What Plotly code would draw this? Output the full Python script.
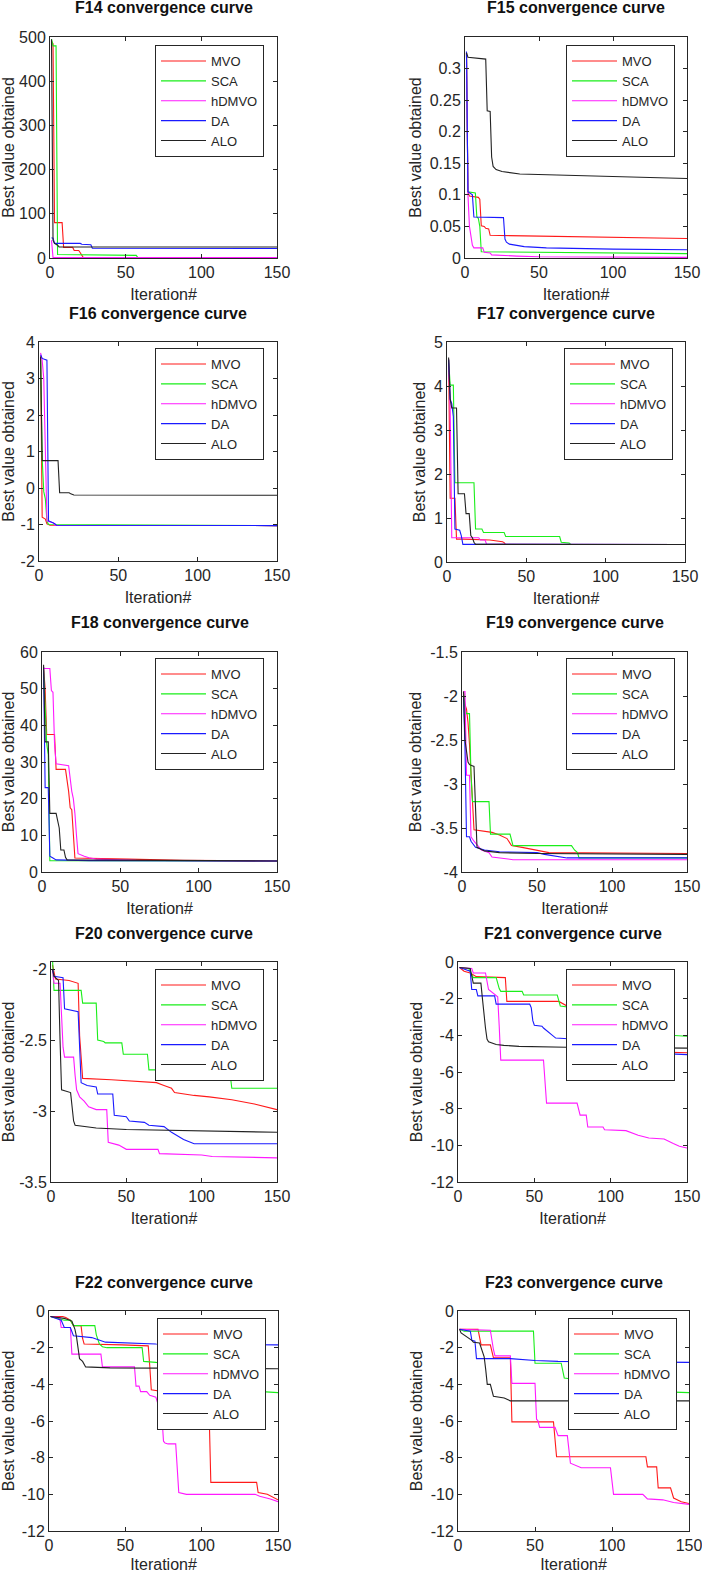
import plotly.graph_objects as go

W, H = 702, 1573

ALGOS = ["MVO", "SCA", "hDMVO", "DA", "ALO"]
COLORS = ["#ff1a1a", "#1aee1a", "#ff1aff", "#1a1aff", "#222222"]

PANELS = ["F14", "F15", "F16", "F17", "F18", "F19", "F20", "F21", "F22", "F23"]

# ---------------- F14 ----------------
F14_MVO_it = [1, 2, 3, 8, 9, 15, 16, 19, 20, 21, 22, 150]
F14_MVO_val = [490, 485, 80, 80, 24, 24, 17, 17, 12, 5, 1, 1]
F14_SCA_it = [1, 2, 4, 5, 57, 58, 150]
F14_SCA_val = [495, 480, 480, 8, 6, 1, 1]
F14_hDMVO_it = [1, 2, 150]
F14_hDMVO_val = [40, 0.998, 0.998]
F14_DA_it = [1, 2, 3, 20, 21, 27, 28, 150]
F14_DA_val = [46, 45, 33, 33, 31, 30, 22, 21.5]
F14_ALO_it = [1, 2, 3, 5, 6, 150]
F14_ALO_val = [495, 40, 33, 29, 25, 25]

# ---------------- F15 ----------------
F15_MVO_it = [1, 2, 3, 9, 10, 11, 13, 14, 16, 17, 40, 100, 150]
F15_MVO_val = [0.325, 0.105, 0.098, 0.096, 0.093, 0.051, 0.05, 0.047, 0.046, 0.036, 0.035, 0.033, 0.031]
F15_SCA_it = [1, 2, 7, 8, 9, 10, 11, 50, 150]
F15_SCA_val = [0.325, 0.105, 0.103, 0.065, 0.063, 0.05, 0.01, 0.009, 0.007]
F15_hDMVO_it = [1, 2, 3, 4, 5, 6, 12, 13, 17, 18, 25, 35, 50, 150]
F15_hDMVO_val = [0.325, 0.1, 0.05, 0.038, 0.02, 0.016, 0.016, 0.009, 0.008, 0.005, 0.004, 0.003, 0.002, 0.001]
F15_DA_it = [1, 2, 5, 6, 26, 27, 28, 30, 40, 55, 100, 150]
F15_DA_val = [0.327, 0.105, 0.1, 0.065, 0.064, 0.03, 0.025, 0.022, 0.018, 0.016, 0.014, 0.013]
F15_ALO_it = [1, 2, 14, 15, 17, 18, 19, 21, 25, 37, 150]
F15_ALO_val = [0.325, 0.318, 0.315, 0.233, 0.232, 0.16, 0.145, 0.14, 0.137, 0.133, 0.126]

# ---------------- F16 ----------------
F16_MVO_it = [1, 2, 4, 5, 7, 150]
F16_MVO_val = [3.6, -0.8, -0.85, -0.98, -1.02, -1.03]
F16_SCA_it = [1, 2, 3, 4, 5, 6, 150]
F16_SCA_val = [3.5, 0.8, -0.1, -0.3, -0.9, -1.0, -1.03]
F16_hDMVO_it = [1, 2, 3, 4, 5, 6, 9, 10, 150]
F16_hDMVO_val = [3.7, 3.5, 3.0, 1.0, -0.9, -0.92, -0.95, -1.02, -1.03]
F16_DA_it = [1, 2, 5, 6, 7, 9, 10, 11, 150]
F16_DA_val = [3.65, 3.55, 3.5, -0.9, -0.92, -0.95, -0.98, -1.02, -1.03]
F16_ALO_it = [1, 2, 12, 13, 19, 20, 22, 150]
F16_ALO_val = [3.6, 0.75, 0.75, -0.13, -0.13, -0.16, -0.19, -0.2]

# ---------------- F17 ----------------
F17_MVO_it = [1, 2, 5, 6, 10, 20, 27, 35, 36, 37, 150]
F17_MVO_val = [4.6, 1.45, 1.45, 0.52, 0.52, 0.51, 0.5, 0.46, 0.44, 0.398, 0.398]
F17_SCA_it = [1, 2, 4, 5, 17, 18, 22, 23, 36, 37, 71, 72, 77, 78, 150]
F17_SCA_val = [4.6, 4.02, 4.02, 1.8, 1.8, 0.75, 0.75, 0.67, 0.67, 0.58, 0.58, 0.45, 0.43, 0.4, 0.398]
F17_hDMVO_it = [1, 2, 3, 20, 21, 24, 25, 150]
F17_hDMVO_val = [4.6, 3.5, 0.55, 0.55, 0.5, 0.5, 0.4, 0.398]
F17_DA_it = [1, 2, 3, 4, 5, 8, 9, 10, 150]
F17_DA_val = [4.6, 3.7, 3.6, 3.3, 0.75, 0.72, 0.6, 0.4, 0.398]
F17_ALO_it = [1, 2, 3, 6, 7, 11, 12, 14, 15, 16, 17, 18, 150]
F17_ALO_val = [4.65, 3.7, 3.5, 3.5, 1.55, 1.55, 1.1, 1.1, 0.6, 0.55, 0.45, 0.4, 0.398]

# ---------------- F18 ----------------
F18_MVO_it = [1, 2, 3, 8, 9, 15, 17, 18, 19, 20, 21, 55, 90, 150]
F18_MVO_val = [56, 50, 37.5, 37.5, 28, 28, 22, 17.5, 17, 10, 3.8, 3.5, 3.2, 3.0]
F18_SCA_it = [1, 2, 3, 4, 5, 150]
F18_SCA_val = [55, 45, 35, 32, 3.1, 3.0]
F18_hDMVO_it = [1, 5, 6, 7, 8, 9, 17, 18, 19, 20, 21, 22, 23, 27, 30, 35, 60, 150]
F18_hDMVO_val = [55.5, 55.5, 49.5, 49, 35, 29.5, 29, 25, 22, 20, 16, 10, 5, 4.3, 3.9, 3.5, 3.2, 3.0]
F18_DA_it = [1, 2, 4, 5, 7, 9, 30, 150]
F18_DA_val = [56, 23, 23, 4.3, 3.8, 3.3, 3.1, 3.0]
F18_ALO_it = [1, 2, 4, 5, 9, 10, 11, 12, 14, 15, 16, 150]
F18_ALO_val = [56.5, 35.5, 35.5, 16, 16, 14, 12, 6, 6, 4, 3.3, 3.0]

# ---------------- F19 ----------------
F19_MVO_it = [1, 2, 3, 4, 5, 7, 8, 20, 25, 30, 33, 40, 50, 58, 150]
F19_MVO_val = [-1.95, -2.1, -2.15, -2.3, -2.55, -3.2, -3.52, -3.55, -3.58, -3.62, -3.7, -3.72, -3.75, -3.78, -3.79]
F19_SCA_it = [1, 2, 3, 5, 6, 7, 18, 19, 32, 34, 73, 75, 77, 78, 150]
F19_SCA_val = [-1.95, -2.15, -2.2, -2.2, -2.9, -3.2, -3.2, -3.57, -3.57, -3.7, -3.7, -3.75, -3.78, -3.84, -3.84]
F19_hDMVO_it = [1, 2, 3, 5, 6, 8, 13, 18, 20, 34, 150]
F19_hDMVO_val = [-1.95, -1.95, -2.9, -2.9, -3.6, -3.65, -3.75, -3.78, -3.83, -3.86, -3.86]
F19_DA_it = [1, 2, 3, 5, 6, 9, 15, 25, 50, 55, 70, 150]
F19_DA_val = [-2.0, -2.6, -3.6, -3.6, -3.65, -3.72, -3.75, -3.77, -3.78, -3.8, -3.84, -3.84]
F19_ALO_it = [1, 2, 4, 5, 8, 9, 10, 15, 25, 50, 150]
F19_ALO_val = [-1.95, -2.5, -2.75, -2.78, -2.8, -3.3, -3.72, -3.76, -3.78, -3.79, -3.8]

# ---------------- F20 ----------------
F20_MVO_it = [1, 3, 12, 18, 19, 20, 21, 40, 55, 70, 75, 80, 82, 95, 105, 120, 135, 150]
F20_MVO_val = [-1.97, -2.07, -2.08, -2.1, -2.47, -2.6, -2.77, -2.78, -2.79, -2.8, -2.82, -2.84, -2.87, -2.89, -2.9, -2.92, -2.95, -2.99]
F20_SCA_it = [1, 2, 20, 21, 30, 31, 35, 36, 47, 48, 64, 65, 104, 105, 119, 120, 150]
F20_SCA_val = [-1.93, -2.15, -2.15, -2.24, -2.24, -2.5, -2.51, -2.52, -2.52, -2.6, -2.6, -2.71, -2.71, -2.75, -2.75, -2.84, -2.84]
F20_hDMVO_it = [1, 2, 6, 7, 8, 9, 15, 16, 17, 19, 22, 25, 30, 37, 38, 45, 50, 71, 72, 100, 107, 150]
F20_hDMVO_val = [-2.0, -2.1, -2.1, -2.4, -2.55, -2.62, -2.62, -2.75, -2.85, -2.9, -2.93, -2.97, -2.99, -2.99, -3.22, -3.24, -3.27, -3.27, -3.3, -3.31, -3.32, -3.33]
F20_DA_it = [1, 2, 8, 9, 18, 19, 20, 24, 30, 31, 41, 42, 50, 52, 62, 65, 75, 80, 88, 95, 150]
F20_DA_val = [-2.0, -2.05, -2.06, -2.28, -2.3, -2.6, -2.8, -2.82, -2.83, -2.88, -2.88, -3.03, -3.04, -3.07, -3.08, -3.1, -3.11, -3.15, -3.2, -3.23, -3.23]
F20_ALO_it = [1, 2, 4, 5, 6, 7, 13, 14, 15, 16, 30, 50, 100, 150]
F20_ALO_val = [-2.0, -2.05, -2.07, -2.08, -2.5, -2.85, -2.87, -3.0, -3.07, -3.1, -3.12, -3.13, -3.14, -3.15]

# ---------------- F21 ----------------
F21_MVO_it = [1, 4, 8, 12, 31, 32, 66, 67, 80, 95, 110, 130, 150]
F21_MVO_val = [-0.3, -0.5, -0.6, -0.8, -0.85, -2.15, -2.15, -2.2, -2.8, -3.5, -4.2, -4.9, -4.95]
F21_SCA_it = [1, 7, 9, 10, 25, 26, 27, 28, 42, 43, 65, 67, 85, 100, 120, 150]
F21_SCA_val = [-0.3, -0.35, -0.7, -0.85, -0.85, -1.2, -1.45, -1.6, -1.6, -1.8, -1.8, -2.4, -2.6, -3.2, -3.9, -4.05]
F21_hDMVO_it = [1, 9, 10, 18, 20, 25, 26, 27, 28, 56, 57, 58, 78, 79, 80, 84, 85, 95, 96, 110, 118, 125, 135, 141, 145, 150]
F21_hDMVO_val = [-0.3, -0.35, -0.6, -0.6, -1.5, -1.8, -1.9, -3.5, -5.35, -5.35, -6.5, -7.7, -7.7, -8.0, -8.35, -8.35, -9.0, -9.0, -9.15, -9.2, -9.45, -9.6, -9.65, -9.9, -10.05, -10.15]
F21_DA_it = [1, 5, 8, 9, 12, 13, 24, 25, 47, 48, 49, 50, 55, 56, 60, 64, 75, 90, 110, 150]
F21_DA_val = [-0.3, -0.4, -0.5, -1.5, -1.5, -1.85, -1.85, -2.3, -2.3, -2.5, -3.2, -3.45, -3.5, -3.6, -3.85, -4.15, -4.2, -4.6, -4.9, -5.05]
F21_ALO_it = [1, 8, 10, 15, 16, 17, 18, 19, 20, 25, 30, 40, 71, 150]
F21_ALO_val = [-0.3, -0.35, -1.15, -1.15, -2.0, -3.0, -3.6, -4.2, -4.35, -4.5, -4.55, -4.6, -4.65, -4.7]

# ---------------- F22 ----------------
F22_MVO_it = [1, 9, 11, 14, 16, 21, 22, 23, 48, 65, 66, 67, 75, 95, 103, 105, 106, 136, 137, 143, 150]
F22_MVO_val = [-0.3, -0.3, -0.35, -0.5, -0.8, -0.8, -1.5, -1.8, -1.85, -1.9, -3.0, -4.3, -4.4, -5.85, -5.9, -5.95, -9.35, -9.35, -9.9, -10.0, -10.3]
F22_SCA_it = [1, 10, 14, 16, 30, 31, 33, 35, 38, 61, 62, 70, 100, 120, 150]
F22_SCA_val = [-0.3, -0.5, -0.5, -0.8, -0.8, -1.3, -1.8, -1.95, -2.0, -2.0, -2.75, -2.8, -3.5, -4.3, -4.45]
F22_hDMVO_it = [1, 7, 8, 14, 15, 34, 35, 56, 57, 59, 60, 64, 66, 70, 74, 75, 76, 78, 83, 84, 85, 90, 135, 138, 145, 150]
F22_hDMVO_val = [-0.3, -0.35, -0.9, -0.9, -2.35, -2.35, -3.05, -3.05, -4.1, -4.1, -4.4, -4.4, -4.6, -4.7, -5.8, -7.1, -7.2, -7.25, -7.25, -8.5, -9.9, -10.0, -10.0, -10.1, -10.25, -10.4]
F22_DA_it = [1, 8, 10, 14, 16, 28, 37, 70, 150]
F22_DA_val = [-0.3, -0.5, -0.9, -0.9, -1.35, -1.45, -1.7, -1.8, -1.85]
F22_ALO_it = [1, 10, 15, 17, 18, 20, 22, 24, 40, 150]
F22_ALO_val = [-0.3, -0.4, -0.55, -1.0, -1.4, -2.6, -2.75, -3.05, -3.1, -3.15]

# ---------------- F23 ----------------
F23_MVO_it = [1, 13, 15, 21, 23, 34, 35, 62, 64, 122, 123, 129, 130, 138, 140, 145, 150]
F23_MVO_val = [-1.0, -1.0, -1.85, -1.85, -2.55, -2.55, -6.05, -6.05, -7.95, -7.95, -8.5, -8.5, -9.65, -9.65, -10.2, -10.4, -10.5]
F23_SCA_it = [1, 4, 49, 50, 67, 69, 90, 110, 130, 150]
F23_SCA_val = [-1.0, -1.1, -1.1, -2.85, -2.85, -3.65, -3.9, -4.2, -4.4, -4.45]
F23_hDMVO_it = [1, 21, 23, 24, 34, 35, 50, 51, 52, 53, 63, 65, 71, 73, 80, 99, 101, 120, 123, 133, 140, 150]
F23_hDMVO_val = [-1.0, -1.05, -2.1, -2.45, -2.45, -3.95, -3.95, -5.9, -6.0, -6.35, -6.35, -6.8, -6.8, -8.3, -8.55, -8.55, -10.0, -10.0, -10.25, -10.3, -10.45, -10.55]
F23_DA_it = [1, 8, 9, 11, 12, 34, 50, 65, 150]
F23_DA_val = [-1.0, -1.1, -1.6, -1.65, -2.6, -2.6, -2.7, -2.75, -2.8]
F23_ALO_it = [1, 2, 9, 10, 14, 16, 17, 18, 19, 21, 23, 30, 34, 150]
F23_ALO_val = [-1.0, -1.2, -1.6, -1.7, -1.75, -2.2, -2.5, -3.2, -4.0, -4.0, -4.65, -4.75, -4.9, -4.9]

# Axis ranges / y tick labels per panel
Y_RANGES = {
    "F14": [0, 500], "F15": [0, 0.35], "F16": [-2, 4], "F17": [0, 5], "F18": [0, 60],
    "F19": [-4, -1.5], "F20": [-3.5, -1.95], "F21": [-12, 0], "F22": [-12, 0], "F23": [-12, 0],
}
Y_TICKS = {
    "F14": [0, 100, 200, 300, 400, 500],
    "F15": [0, 0.05, 0.1, 0.15, 0.2, 0.25, 0.3],
    "F16": [-2, -1, 0, 1, 2, 3, 4],
    "F17": [0, 1, 2, 3, 4, 5],
    "F18": [0, 10, 20, 30, 40, 50, 60],
    "F19": [-4, -3.5, -3, -2.5, -2, -1.5],
    "F20": [-3.5, -3, -2.5, -2],
    "F21": [-12, -10, -8, -6, -4, -2, 0],
    "F22": [-12, -10, -8, -6, -4, -2, 0],
    "F23": [-12, -10, -8, -6, -4, -2, 0],
}
X_TICKS = [0, 50, 100, 150]

# Layout geometry (pixels): plot box left, right, top, bottom; legend top-left
BOXES = {
    "F14": (50, 277, 37, 258), "F15": (465, 687, 37, 258),
    "F16": (39, 277, 342, 561), "F17": (447, 685, 342, 562),
    "F18": (42, 277, 652, 872), "F19": (462, 687, 652, 872),
    "F20": (51, 277, 962, 1182), "F21": (458, 687, 962, 1182),
    "F22": (49, 278, 1311, 1531), "F23": (458, 689, 1311, 1531),
}
LEGEND_POS = {
    "F14": (155, 45), "F15": (566, 45), "F16": (155, 348), "F17": (564, 348),
    "F18": (155, 658), "F19": (566, 658), "F20": (155, 969), "F21": (566, 969),
    "F22": (157, 1318), "F23": (568, 1318),
}

FONT = "Liberation Sans, Arial, sans-serif"
AXC = "#262626"


def fmt(v):
    return "%g" % v


fig = go.Figure()
g = globals()
layout = dict(
    width=W, height=H, margin=dict(l=0, r=0, t=0, b=0, autoexpand=False),
    paper_bgcolor="white", plot_bgcolor="white",
    font=dict(family=FONT, color=AXC, size=16),
    annotations=[],
)

for i, p in enumerate(PANELS):
    n = i + 1
    xa = "x" if n == 1 else "x%d" % n
    ya = "y" if n == 1 else "y%d" % n
    leg = "legend" if n == 1 else "legend%d" % n
    for a, c in zip(ALGOS, COLORS):
        fig.add_trace(go.Scatter(
            x=g["%s_%s_it" % (p, a)], y=g["%s_%s_val" % (p, a)],
            mode="lines", name=a, line=dict(color=c, width=1.1),
            xaxis=xa, yaxis=ya, legend=leg, showlegend=True,
        ))
    l, r, t, b = BOXES[p]
    xkey = "xaxis" if n == 1 else "xaxis%d" % n
    ykey = "yaxis" if n == 1 else "yaxis%d" % n
    common = dict(showline=True, linecolor=AXC, linewidth=1, mirror="ticks",
                  ticks="inside", ticklen=4, tickcolor=AXC, showgrid=False,
                  zeroline=False, automargin=False, ticklabeloverflow="allow",
                  tickfont=dict(size=16, color=AXC, family=FONT))
    layout[xkey] = dict(domain=[l / W, r / W], anchor=ya, range=[0, 150],
                        tickvals=X_TICKS, ticktext=[fmt(v) for v in X_TICKS],
                        title=dict(text="Iteration#", font=dict(size=16, color=AXC), standoff=8),
                        **common)
    layout[ykey] = dict(domain=[1 - b / H, 1 - t / H], anchor=xa, range=Y_RANGES[p],
                        tickvals=Y_TICKS[p], ticktext=[fmt(v) for v in Y_TICKS[p]],
                        title=dict(text="Best value obtained", font=dict(size=16, color=AXC), standoff=4),
                        **common)
    lx, ly = LEGEND_POS[p]
    layout[leg] = dict(x=lx / W, y=1 - ly / H, xanchor="left", yanchor="top",
                       xref="paper", yref="paper",
                       bgcolor="white", bordercolor=AXC, borderwidth=1,
                       font=dict(size=13, color=AXC, family=FONT),
                       itemwidth=45, tracegroupgap=0)
    layout["annotations"].append(dict(
        text="<b>%s convergence curve</b>" % p, x=(l + r) / 2 / W, y=1 - (t - 29) / H,
        xref="paper", yref="paper", xanchor="center", yanchor="middle",
        showarrow=False, font=dict(size=16, color="#111111", family=FONT)))

fig.update_layout(**layout)
fig.write_html("out.html", config={"displayModeBar": False},
               post_script="document.body.style.margin='0px';")
